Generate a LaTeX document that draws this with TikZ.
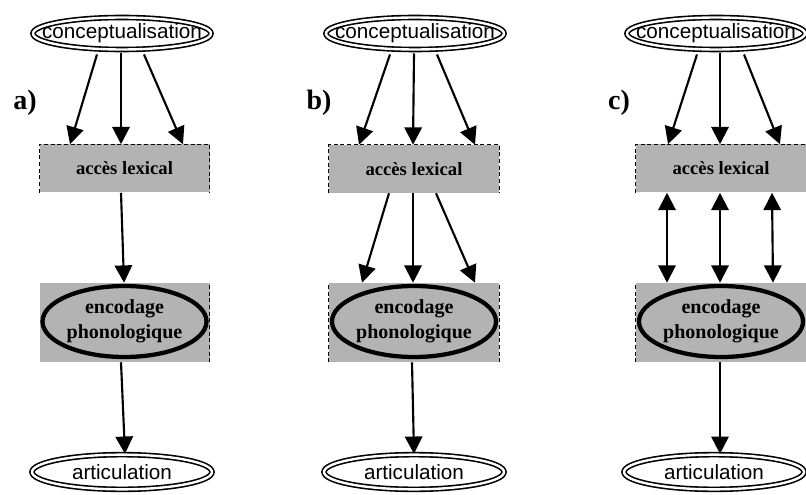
\documentclass[tikz,border=0pt]{standalone}
\usepackage{fontspec}
\setmainfont{Liberation Serif}
\newfontfamily\arialfont{Liberation Sans}
\usetikzlibrary{arrows.meta,shapes.geometric,calc}
\definecolor{boxgray}{RGB}{179,179,179}
\newcommand{\zw}[1]{\makebox[0pt]{#1}}
\begin{document}
\begin{tikzpicture}[x=0.75pt,y=-0.75pt,
 dblell/.style={ellipse, draw, double, line width=1.2pt, double distance=1.8pt, fill=white, inner sep=0pt, font=\arialfont\fontsize{15.5}{18}\selectfont},
 conc/.style={dblell, minimum width=133.5pt, minimum height=24pt},
 artic/.style={dblell, minimum width=135pt, minimum height=26pt},
 accbox/.style={rectangle, fill=boxgray, minimum width=127.5pt, minimum height=36pt, inner sep=0pt, font=\bfseries\fontsize{14}{16}\selectfont},
 encbox/.style={rectangle, fill=boxgray, minimum width=127.5pt, minimum height=59.25pt, inner sep=0pt},
 encell/.style={ellipse, draw, line width=3.2pt, fill=boxgray, minimum width=123pt, minimum height=53.25pt, inner sep=0pt, align=center, font=\bfseries\fontsize{15}{18.75}\selectfont},
 arr/.style={line width=1.6pt, -{Triangle[length=13pt,width=13pt]}},
 biarr/.style={line width=1.6pt, {Triangle[length=13pt,width=13pt]}-{Triangle[length=13pt,width=13pt]}},
 panlabel/.style={font=\bfseries\fontsize{21}{24}\selectfont},
 boxedge/.style={densely dashed, line width=0.5pt}
]
\useasboundingbox (0,0) rectangle (806,495);

% ---------- panel a ----------
\node[conc] (ca) at (122,33.5) {\zw{conceptualisation}};
\node[accbox] (acca) at (124.5,168.5) {accès lexical};
\node[encbox] (encba) at (124.5,322.5) {};
\node[encell] (enca) at (124.5,321.5) {\zw{encodage}\\\zw{phonologique}};
\node[artic] (arta) at (122,472) {\zw{articulation}};
\node[panlabel] (la) at (25,103) {a)};
\draw[boxedge] (acca.south west) |- (acca.north east) -- (acca.south east);
\draw[boxedge] (encba.south east) -- (encba.north east);

\draw[arr] ($(ca)+(-25,21)$) -- ($(acca.north)+(-54.5,0)$);
\draw[arr] ($(ca)+(-1,20)$) -- ($(acca.north)+(-3.5,0)$);
\draw[arr] ($(ca)+(22,21)$) -- ($(acca.north)+(58.5,0)$);
\draw[arr] ($(acca.south)+(-3.5,0)$) -- ($(encba.north)+(-0.5,0)$);
\draw[arr] ($(encba.south)+(-3.5,0)$) -- ($(arta.north)+(3,0)$);

% ---------- panel b ----------
\node[conc] (cb) at (415,33.5) {\zw{conceptualisation}};
\node[accbox] (accb) at (414,169) {accès lexical};
\node[encbox] (encbb) at (414,322.5) {};
\node[encell] (encb) at (414,321.5) {\zw{encodage}\\\zw{phonologique}};
\node[artic] (artb) at (414,472) {\zw{articulation}};
\node[panlabel] (lb) at (319,103) {b)};
\draw[boxedge] (accb.south west) |- (accb.north east) -- (accb.south east);
\draw[boxedge] (encbb.south west) -- (encbb.north west);
\draw[boxedge] (encbb.south east) -- (encbb.north east);

\draw[arr] ($(cb)+(-25,21)$) -- ($(accb.north)+(-55,0)$);
\draw[arr] ($(cb)+(-1,20)$) -- ($(accb.north)+(-1,0)$);
\draw[arr] ($(cb)+(22,21)$) -- ($(accb.north)+(61,0)$);
\draw[arr] ($(accb.south)+(-25,0)$) -- ($(encbb.north)+(-52,0)$);
\draw[arr] ($(accb.south)+(-1,0)$) -- ($(encbb.north)+(-1,0)$);
\draw[arr] ($(accb.south)+(22,0)$) -- ($(encbb.north)+(61,0)$);
\draw[arr] ($(encbb.south)+(-2,0)$) -- ($(artb.north)+(0,0)$);

% ---------- panel c ----------
\node[conc] (cc) at (716,33.5) {\zw{conceptualisation}};
\node[accbox] (accc) at (721,168.5) {accès lexical};
\node[encbox] (enccb) at (721,322.5) {};
\node[encell] (encc) at (721,321.5) {\zw{encodage}\\\zw{phonologique}};
\node[artic] (artc) at (714,472) {\zw{articulation}};
\node[panlabel] (lc) at (619,103) {c)};
\draw[boxedge] (accc.south west) |- (accc.north east) -- (accc.south east);
\draw[boxedge] (enccb.south west) -- (enccb.north west);

\draw[arr] ($(cc)+(-19,21)$) -- ($(accc.north)+(-53,0)$);
\draw[arr] ($(cc)+(4,20)$) -- ($(accc.north)+(-1,0)$);
\draw[arr] ($(cc)+(28,21)$) -- ($(accc.north)+(59,0)$);
\draw[biarr] ($(accc.south)+(-54,0)$) -- ($(enccb.north)+(-54,0)$);
\draw[biarr] ($(accc.south)+(-1,0)$) -- ($(enccb.north)+(-1,0)$);
\draw[biarr] ($(accc.south)+(51,0)$) -- ($(enccb.north)+(52,0)$);
\draw[arr] ($(enccb.south)+(-1,0)$) -- ($(artc.north)+(6,0)$);
\end{tikzpicture}
\end{document}
